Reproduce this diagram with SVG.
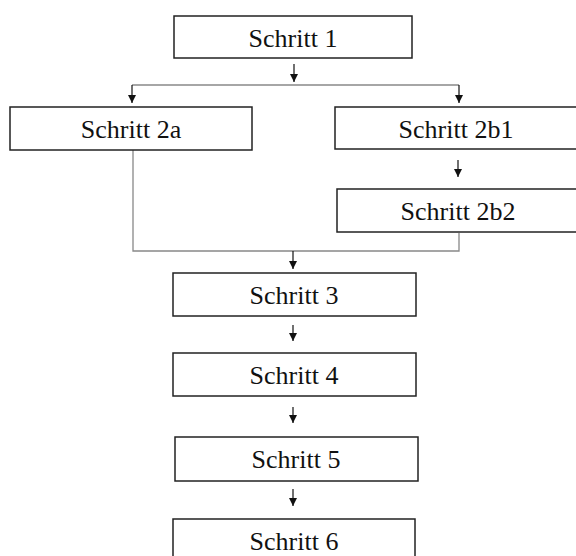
<svg xmlns="http://www.w3.org/2000/svg" width="576" height="556" viewBox="0 0 576 556">
<defs>
<style>
.box{fill:#fff;stroke:#222;stroke-width:1.5}
.lbl{font-family:"Liberation Serif","Times New Roman",serif;font-size:26px;fill:#111;text-anchor:middle}
.gl{fill:none;stroke:#888;stroke-width:1.3}
.ar{fill:none;stroke:#111;stroke-width:1.2;marker-end:url(#ah)}
</style>
<marker id="ah" markerUnits="userSpaceOnUse" markerWidth="8" markerHeight="8" viewBox="0 0 8 8" refX="8" refY="4" orient="auto">
<path d="M0,0 L8,4 L0,8 Z" fill="#111"/>
</marker>
</defs>
<rect width="576" height="556" fill="#fff"/>
<g id="connectors">
<path class="gl" d="M132,85 H459"/>
<path class="gl" d="M133,150 V251 H459 V233"/>
<line class="ar" x1="294" y1="64" x2="294" y2="82"/>
<line class="ar" x1="132" y1="85" x2="132" y2="103"/>
<line class="ar" x1="459" y1="85" x2="459" y2="103"/>
<line class="ar" x1="458" y1="160" x2="458" y2="177"/>
<line class="ar" x1="293" y1="251" x2="293" y2="269"/>
<line class="ar" x1="293" y1="325" x2="293" y2="341"/>
<line class="ar" x1="293" y1="407" x2="293" y2="423"/>
<line class="ar" x1="293" y1="489" x2="293" y2="506"/>
</g>
<g id="n1"><rect class="box" x="174" y="16" width="238" height="42"/><text class="lbl" x="293" y="47">Schritt 1</text></g>
<g id="n2a"><rect class="box" x="10" y="107" width="242" height="43"/><text class="lbl" x="131" y="138">Schritt 2a</text></g>
<g id="n2b1"><rect class="box" x="335" y="107" width="245" height="42"/><text class="lbl" x="456" y="138">Schritt 2b1</text></g>
<g id="n2b2"><rect class="box" x="337" y="189" width="245" height="43"/><text class="lbl" x="458" y="220">Schritt 2b2</text></g>
<g id="n3"><rect class="box" x="173" y="273" width="243" height="43"/><text class="lbl" x="294" y="304">Schritt 3</text></g>
<g id="n4"><rect class="box" x="173" y="353" width="243" height="43"/><text class="lbl" x="294" y="384">Schritt 4</text></g>
<g id="n5"><rect class="box" x="175" y="437" width="243" height="44"/><text class="lbl" x="296" y="468">Schritt 5</text></g>
<g id="n6"><rect class="box" x="173" y="519" width="242" height="44"/><text class="lbl" x="294" y="550">Schritt 6</text></g>
</svg>
